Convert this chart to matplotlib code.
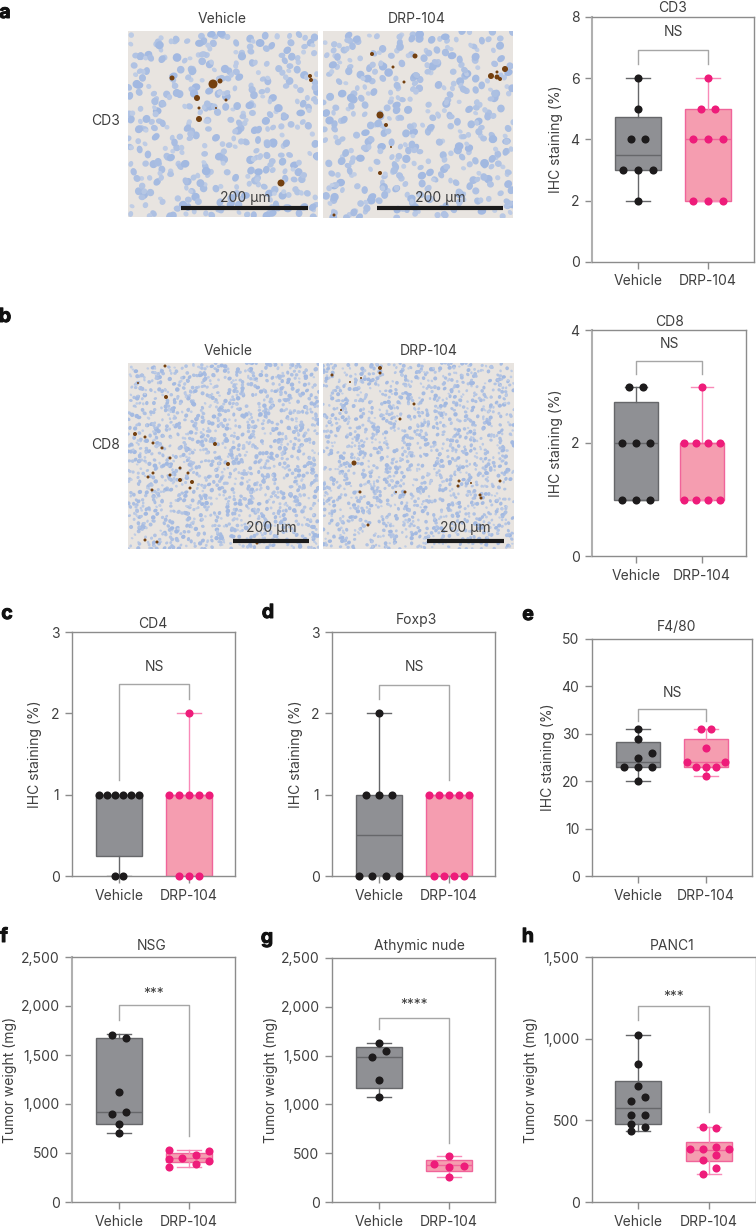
import matplotlib
matplotlib.use('Agg')
import matplotlib.pyplot as plt
import matplotlib.patheffects as pe
import numpy as np
from matplotlib.collections import EllipseCollection

plt.rcParams['font.family'] = ['Inter', 'DejaVu Sans']

W, H = 756, 1229

groups = ['Vehicle', 'DRP-104']

# valores: pontos, coluna do swarm, caixa (min, q1, mediana, q3, max)
cd3_veh = [6, 5, 4, 4, 3, 3, 3, 2]
cd3_veh_off = [0, 0, -.105, .105, -.21, 0, .21, 0]
cd3_veh_box = [2, 3, 3.5, 4.72, 6]
cd3_drp = [6, 5, 5, 4, 4, 4, 2, 2, 2]
cd3_drp_off = [0, -.105, .105, -.21, 0, .21, -.21, 0, .21]
cd3_drp_box = [2, 2, 4, 5, 6]

cd8_veh = [3, 3, 2, 2, 2, 1, 1, 1]
cd8_veh_off = [-.105, .105, -.21, 0, .21, -.21, 0, .21]
cd8_veh_box = [1, 1, 2, 2.72, 3]
cd8_drp = [3, 2, 2, 2, 2, 1, 1, 1, 1]
cd8_drp_off = [0, -.28, -.095, .09, .28, -.28, -.095, .09, .28]
cd8_drp_box = [1, 1, 2, 2, 3]

cd4_veh = [1, 1, 1, 1, 1, 1, 0, 0]
cd4_veh_off = [-.286, -.171, -.057, .057, .171, .286, -.057, .057]
cd4_veh_box = [0, .25, 1, 1, 1]
cd4_drp = [2, 1, 1, 1, 1, 1, 0, 0, 0]
cd4_drp_off = [0, -.28, -.14, 0, .14, .28, -.14, 0, .14]
cd4_drp_box = [0, 0, 1, 1, 2]

foxp3_veh = [2, 1, 1, 1, 0, 0, 0, 0]
foxp3_veh_off = [0, -.186, 0, .186, -.28, -.093, .093, .28]
foxp3_veh_box = [0, 0, .5, 1, 2]
foxp3_drp = [1, 1, 1, 1, 1, 0, 0, 0, 0]
foxp3_drp_off = [-.28, -.14, 0, .14, .28, -.215, -.075, .07, .21]
foxp3_drp_box = [0, 0, 1, 1, 1]

f480_veh = [31, 29, 26, 25, 23, 23, 23, 20]
f480_veh_off = [0, 0, .21, 0, -.21, 0, .21, 0]
f480_veh_box = [20, 23, 24, 28.2, 31]
f480_drp = [31, 31, 27, 24, 24, 23, 23, 23, 21]
f480_drp_off = [-.07, .07, 0, -.28, .28, -.14, 0, .14, 0]
f480_drp_box = [21, 23, 24, 29, 31]

nsg_veh = [1705, 1671, 1121, 900, 914, 798, 706]
nsg_veh_off = [-.105, .105, 0, -.105, .105, 0, 0]
nsg_veh_box = [706, 800, 915, 1670, 1710]
nsg_drp = [530, 442, 353, 448, 475, 391, 516, 414]
nsg_drp_off = [-.28, -.28, -.28, -.095, .095, .095, .28, .28]
nsg_drp_box = [355, 404, 452, 500, 530]

nude_veh = [1631, 1550, 1482, 1253, 1076]
nude_veh_off = [0, .105, -.105, 0, 0]
nude_veh_box = [1076, 1168, 1482, 1584, 1631]
nude_drp = [473, 392, 371, 358, 259]
nude_drp_off = [0, -.21, .21, 0, 0]
nude_drp_box = [259, 317, 375, 429, 473]

panc_veh = [1022, 845, 710, 645, 620, 530, 530, 480, 459, 435]
panc_veh_off = [0, 0, 0, .105, -.105, -.105, .105, -.105, .105, -.105]
panc_veh_box = [435, 478, 576, 741, 1022]
panc_drp = [459, 455, 339, 324, 324, 324, 290, 259, 208, 171]
panc_drp_off = [-.09, .1, .1, -.27, -.09, .285, .1, -.09, .1, -.09]
panc_drp_box = [171, 249, 318, 367, 459]

cd3_ticks = [0, 2, 4, 6, 8]
cd8_ticks = [0, 2, 4]
cd4_ticks = [0, 1, 2, 3]
f480_ticks = [0, 10, 20, 30, 40, 50]
weight_ticks = [0, 500, 1000, 1500, 2000, 2500]
panc_ticks = [0, 500, 1000, 1500]

# manchas marrons das fotos (pixel x, pixel y, tamanho)
a_veh_spots = [(172, 78, 5), (213, 84, 9), (220, 81, 5), (197, 98, 6), (199, 119, 6), (281, 183, 7),
               (310, 76, 4), (311, 80, 4), (226, 100, 3), (199, 108, 3), (216, 108, 2)]
a_drp_spots = [(372, 54, 4), (415, 56, 5), (393, 67, 3), (404, 82, 3), (380, 115, 7), (386, 125, 4),
               (380, 173, 4), (391, 147, 2), (491, 76, 6), (497, 77, 5), (505, 69, 6), (500, 79, 4),
               (497, 72, 3), (334, 215, 3)]
b_veh_spots = [(135, 434, 4), (145, 437, 3), (153, 443, 3), (162, 448, 3), (170, 458, 3), (180, 468, 3),
               (188, 473, 3), (192, 482, 4), (180, 480, 4), (190, 488, 3), (170, 475, 3), (153, 473, 3),
               (148, 477, 3), (152, 490, 3), (166, 397, 4), (215, 444, 4), (228, 464, 4), (145, 540, 3),
               (157, 542, 3), (257, 543, 3), (165, 366, 3), (138, 383, 2)]
b_drp_spots = [(380, 368, 4), (380, 373, 3), (332, 375, 3), (350, 382, 2), (361, 378, 2), (354, 463, 5),
               (360, 492, 3), (405, 492, 3), (396, 492, 2), (459, 481, 3), (458, 486, 3), (471, 483, 2),
               (480, 495, 3), (481, 498, 3), (414, 404, 3), (400, 419, 3), (341, 410, 2), (368, 525, 3),
               (500, 481, 3)]

GRAY_BOX = '#8f9094'
GRAY_EDGE = '#66676a'
PINK_BOX = '#f59db0'
PINK_EDGE = '#f0649a'
PINK_WHISK = '#f98ab8'
BLACK = '#1d1b1c'
PINK = '#ee1c7a'
AXIS = '#8c8c8c'
BRACKET = '#a6a6a6'
TEXT = '#3f3f3f'
FS = 10

fig = plt.figure(figsize=(W / 100, H / 100), dpi=100)


def fx(x):
    return x / W


def fy(y):
    return 1 - y / H


def label(x, y, s, **kw):
    kw.setdefault('fontsize', FS)
    kw.setdefault('color', TEXT)
    kw.setdefault('ha', 'center')
    kw.setdefault('va', 'center')
    return fig.text(fx(x), fy(y), s, **kw)


def add_box(ax, pos, vals, off, box, face, edge, whisk, dot):
    stats = [dict(whislo=box[0], q1=box[1], med=box[2], q3=box[3], whishi=box[4])]
    ax.bxp(stats, positions=[pos], widths=.66, capwidths=.34, showfliers=False, patch_artist=True,
           manage_ticks=False,
           boxprops=dict(facecolor=face, edgecolor=edge, linewidth=1),
           medianprops=dict(color=edge, linewidth=1),
           whiskerprops=dict(color=whisk, linewidth=1),
           capprops=dict(color=whisk, linewidth=1))
    ax.scatter(pos + np.array(off), vals, s=34, color=dot, zorder=5, clip_on=False, linewidths=0)


# caixa do eixo em pixels: esquerda, direita, topo, base, e x das duas categorias
def chart(left, right, top, bottom, x0, x1, ymax, ticks, ylab, ylab_x, title, title_x, title_y,
          veh, veh_off, veh_box, drp, drp_off, drp_box, br_top, br_l, br_r, sig, sig_y, thick=False):
    ax = fig.add_axes([fx(left), fy(bottom), (right - left) / W, (bottom - top) / H])
    add_box(ax, 0, veh, veh_off, veh_box, GRAY_BOX, GRAY_EDGE, GRAY_EDGE, BLACK)
    add_box(ax, 1, drp, drp_off, drp_box, PINK_BOX, PINK_EDGE, PINK_WHISK, PINK)
    unit = x1 - x0
    ax.set_xlim((left - x0) / unit, (right - x0) / unit)
    ax.set_ylim(0, ymax)
    ax.set_xticks([0, 1])
    ax.set_xticklabels(groups)
    ax.set_yticks(ticks)
    ax.set_yticklabels([f'{t:,}' for t in ticks])
    ax.tick_params(length=5, width=1, color=AXIS, labelsize=FS, labelcolor=TEXT, pad=4)
    for s in ax.spines.values():
        s.set_color(AXIS)
        s.set_linewidth(1)
    if thick:
        ax.spines['left'].set_color('#b0b0b0')
        ax.spines['left'].set_linewidth(1.5)
    ax.plot([0, 0, 1, 1], [br_l, br_top, br_top, br_r], color=BRACKET, lw=1, zorder=3)
    ax.text(.5, sig_y, sig, ha='center', va='center', fontsize=FS, color=TEXT)
    ax.set_ylabel(ylab, fontsize=FS, color=TEXT, va='center')
    ax.yaxis.set_label_coords((ylab_x + 3 - left) / (right - left), .5)
    label(title_x, title_y, title)
    return ax


def tissue(left, right, top, bottom, n, size, start, spots, bar_x0, bar_x1, bar_y, txt_x, txt_y):
    ax = fig.add_axes([fx(left), fy(bottom), (right - left) / W, (bottom - top) / H])
    ax.set_xlim(left, right)
    ax.set_ylim(bottom, top)
    ax.set_xticks([])
    ax.set_yticks([])
    ax.set_facecolor('#e8e4e0')
    for s in ax.spines.values():
        s.set_visible(False)
    # nucleos azuis so como textura da foto, sequencia fixa sem sorteio
    k = np.arange(start, start + n)
    xs = left + ((k * 0.7548776662 + .045 * np.sin(k * 1.7) + .03 * np.sin(k * .37)) % 1) * (right - left)
    ys = top + ((k * 0.5698402910 + .045 * np.cos(k * 2.3) + .03 * np.cos(k * .53)) % 1) * (bottom - top)
    ws = size * (.7 + .55 * (k * 0.6180339 % 1))
    hs = ws * (.75 + .25 * (k * 0.4142135 % 1))
    ang = k * 0.2360679 % 1 * 180
    tone = k * 0.3819660 % 1
    cols = np.array([.63, .72, .88]) * (1 - tone[:, None]) + np.array([.76, .81, .90]) * tone[:, None]
    ax.add_collection(EllipseCollection(ws, hs, ang, units='xy', offsets=np.c_[xs, ys],
                                        transOffset=ax.transData, facecolors=cols, edgecolors='none'))
    for x, y, d in spots:
        ax.add_patch(plt.Circle((x, y), d / 2, color='#74400f', lw=0, zorder=3))
    ax.plot([bar_x0, bar_x1], [bar_y, bar_y], color='#1a1a1a', lw=3, solid_capstyle='butt', zorder=4)
    ax.text(txt_x, txt_y, '200 µm', ha='center', va='center', fontsize=FS, color=TEXT, zorder=5)


# fotos
tissue(128, 318, 31, 217, 420, 7, 11, a_veh_spots, 181, 308, 208, 245, 198)
tissue(323, 513, 31, 218, 420, 7, 503, a_drp_spots, 377, 503, 208, 440, 198)
tissue(128, 319, 363, 549, 1500, 3.7, 23, b_veh_spots, 233, 309, 541, 271, 528)
tissue(323, 514, 363, 549, 1500, 3.5, 1307, b_drp_spots, 427, 504, 541, 465, 528)

label(222, 19, 'Vehicle')
label(417, 19, 'DRP-104')
label(228, 351, 'Vehicle')
label(429, 351, 'DRP-104')
label(120, 121, 'CD3', ha='right')
label(120, 445, 'CD8', ha='right')

# graficos
ihc = 'IHC staining (%)'
tum = 'Tumor weight (mg)'
chart(592, 754, 17, 262, 638, 708, 8, cd3_ticks, ihc, 553, 'CD3', 673, 8,
      cd3_veh, cd3_veh_off, cd3_veh_box, cd3_drp, cd3_drp_off, cd3_drp_box, 6.93, 6.46, 6.46, 'NS', 7.5, thick=True)
chart(592, 746, 330, 556, 636, 702, 4, cd8_ticks, ihc, 553, 'CD8', 669, 322,
      cd8_veh, cd8_veh_off, cd8_veh_box, cd8_drp, cd8_drp_off, cd8_drp_box, 3.46, 3.23, 3.23, 'NS', 3.76, thick=True)
chart(72, 235, 632, 876, 119, 189, 3, cd4_ticks, ihc, 32, 'CD4', 153, 624,
      cd4_veh, cd4_veh_off, cd4_veh_box, cd4_drp, cd4_drp_off, cd4_drp_box, 2.36, 1.18, 2.18, 'NS', 2.57)
chart(332, 495, 632, 876, 379, 449, 3, cd4_ticks, ihc, 293, 'Foxp3', 416, 620,
      foxp3_veh, foxp3_veh_off, foxp3_veh_box, foxp3_drp, foxp3_drp_off, foxp3_drp_box, 2.35, 2.18, 1.18, 'NS', 2.57)
chart(592, 752, 639, 876, 638, 706, 50, f480_ticks, ihc, 545, 'F4/80', 676, 627,
      f480_veh, f480_veh_off, f480_veh_box, f480_drp, f480_drp_off, f480_drp_box, 35.2, 32.8, 32.8, 'NS', 38.7)
chart(72, 235, 957, 1202, 119, 189, 2500, weight_ticks, tum, 7, 'NSG', 152, 946,
      nsg_veh, nsg_veh_off, nsg_veh_box, nsg_drp, nsg_drp_off, nsg_drp_box, 2007, 1858, 676, '***', 2120, thick=True)
chart(332, 495, 958, 1202, 379, 449, 2500, weight_ticks, tum, 268, 'Athymic nude', 419, 946,
      nude_veh, nude_veh_off, nude_veh_box, nude_drp, nude_drp_off, nude_drp_box, 1890, 1768, 603, '****', 2015)
chart(592, 756, 957, 1202, 638, 709, 1500, panc_ticks, tum, 528, 'PANC1', 672, 946,
      panc_veh, panc_veh_off, panc_veh_box, panc_drp, panc_drp_off, panc_drp_box, 1200, 1112, 549, '***', 1255)

# letras dos paineis
for x, y, s in [(5, 13, 'a'), (5, 317, 'b'), (7, 614, 'c'), (268, 613, 'd'), (528, 615, 'e'),
                (4, 937, 'f'), (267, 938, 'g'), (528, 937, 'h')]:
    t = label(x, y, s, fontsize=14, fontweight='bold', color='#111111')
    t.set_path_effects([pe.withStroke(linewidth=.7, foreground='#111111')])

fig.savefig('out.png', dpi=100)
